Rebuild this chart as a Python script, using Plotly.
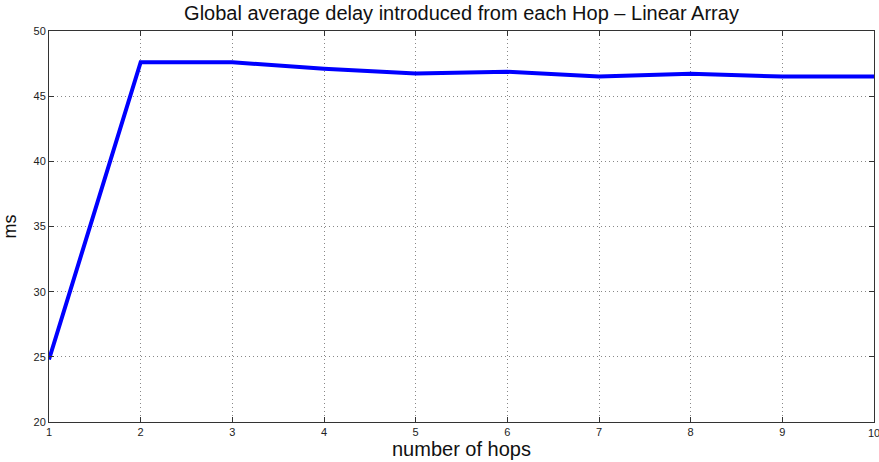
import plotly.graph_objects as go

hops = [1, 2, 3, 4, 5, 6, 7, 8, 9, 10]
delay_ms = [24.8, 47.6, 47.6, 47.1, 46.74, 46.87, 46.51, 46.72, 46.51, 46.5]
x_ticks = [1, 2, 3, 4, 5, 6, 7, 8, 9, 10]
y_ticks = [20, 25, 30, 35, 40, 45, 50]

fig = go.Figure()
fig.add_trace(go.Scatter(x=hops, y=delay_ms, mode="lines",
                         line=dict(color="#0000ff", width=4), showlegend=False,
                         cliponaxis=False))

axis_common = dict(
    showline=True, linecolor="#333333", linewidth=1, mirror="ticks",
    ticks="inside", ticklen=5, tickcolor="#333333",
    showgrid=True, gridcolor="#888888", griddash="1px,3px", gridwidth=1,
    zeroline=False, tickfont=dict(size=11, color="#222222"),
    automargin=False,
)

fig.update_layout(
    width=879, height=462,
    margin=dict(l=49, r=5, t=31, b=40),
    paper_bgcolor="white", plot_bgcolor="white",
    font=dict(family="Liberation Sans, Arial, sans-serif", color="#111111"),
    title=dict(text="Global average delay introduced from each Hop \u2013 Linear Array",
               x=0.5, xref="paper", xanchor="center", y=0.971, yanchor="middle",
               yref="container", automargin=False,
               font=dict(size=20)),
    xaxis=dict(range=[1, 10], tickvals=x_ticks,
               title=dict(text="number of hops", font=dict(size=20), standoff=0),
               **axis_common),
    yaxis=dict(range=[20, 50], tickvals=y_ticks,
               title=dict(text="ms", font=dict(size=18), standoff=15),
               **axis_common),
)

# last x tick label sits on the right edge (partly cut off, as in the reference)
fig.add_annotation(x=x_ticks[-1], y=0, xref="x", yref="paper", yanchor="top",
                   yshift=-3, text=str(x_ticks[-1]), showarrow=False,
                   font=dict(size=11, color="#222222"))

fig.write_html("out.html", config={"displayModeBar": False},
               post_script="document.body.style.margin='0';")
